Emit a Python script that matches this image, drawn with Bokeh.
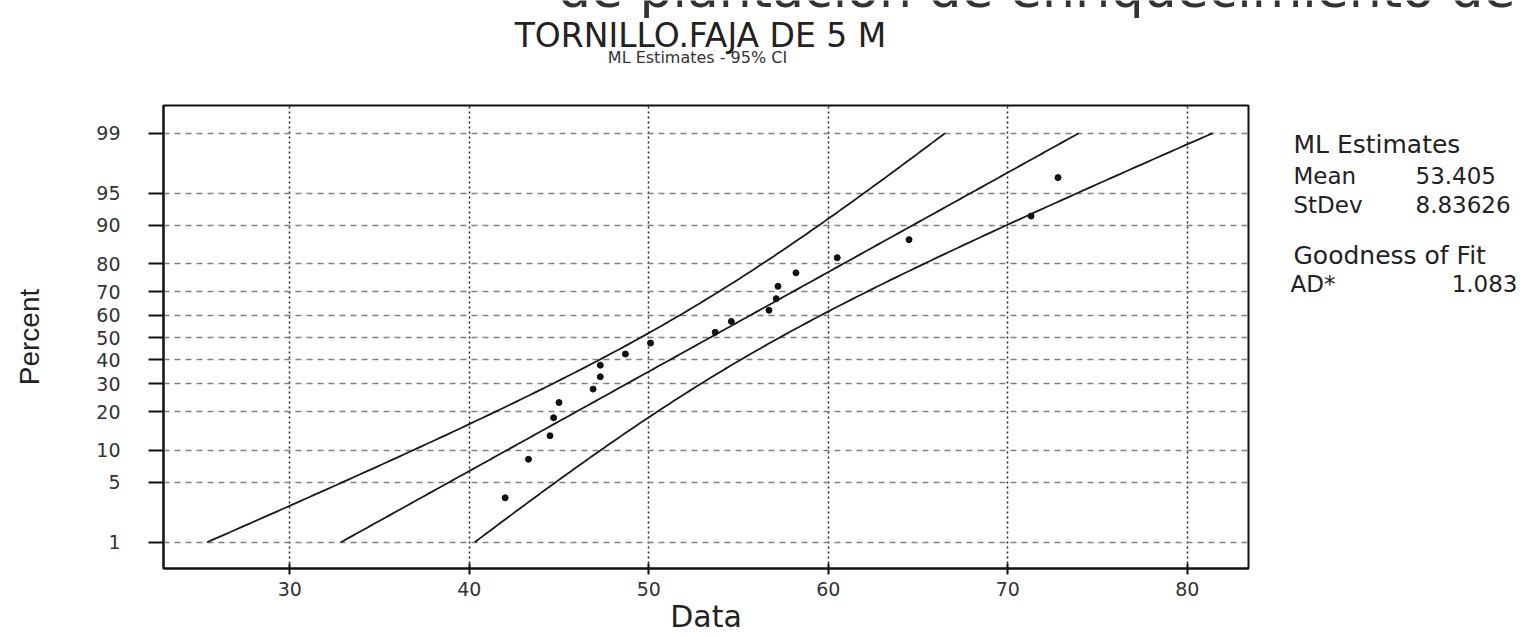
from statistics import NormalDist
import math
from bokeh.plotting import figure
from bokeh.layouts import column, row
from bokeh.models import Range1d, FixedTicker, CustomJSTickFormatter
from bokeh.core.properties import value
from bokeh.embed import file_html
from bokeh.resources import INLINE

# ---------------- data ----------------
data_values = [42.0, 43.3, 44.5, 44.7, 45.0, 46.9, 47.3, 47.3, 48.7, 50.1,
               53.7, 54.6, 56.7, 57.1, 57.2, 58.2, 60.5, 64.5, 71.3, 72.8]
mean_est = 53.405
stdev_est = 8.83626
ad_stat = 1.083
percent_ticks = [1, 5, 10, 20, 30, 40, 50, 60, 70, 80, 90, 95, 99]
x_ticks = [30, 40, 50, 60, 70, 80]
title_cut = "de plantación de enriquecimiento de"
title_main = "TORNILLO.FAJA DE 5 M"
subtitle = "ML Estimates - 95% CI"

nd = NormalDist()
n = len(data_values)
xs = sorted(data_values)
# median-rank (Benard) plotting positions, as in Minitab
z_pts = [nd.inv_cdf((i + 1 - 0.3) / (n + 0.4)) for i in range(n)]
z_ticks = [nd.inv_cdf(p / 100.0) for p in percent_ticks]
tick_labels = [str(p) for p in percent_ticks]

# fitted line and 95% CI (ML, normal approximation)
z_lo, z_hi = nd.inv_cdf(0.01), nd.inv_cdf(0.99)
zc = [z_lo + (z_hi - z_lo) * k / 200 for k in range(201)]
fit_x = [mean_est + z * stdev_est for z in zc]
se = [stdev_est * math.sqrt(1.0 / n + z * z / (2.0 * n)) for z in zc]
ci_lo = [f - 1.96 * s for f, s in zip(fit_x, se)]
ci_hi = [f + 1.96 * s for f, s in zip(fit_x, se)]

# ---------------- layout (pixel geometry) ----------------
W, H = 1522, 636
TOP_H = 100
MAIN_W = 1260
FL, FR, FT, FB = 163, 1248, 105, 568
PX55, SX = 738.0, 17.95       # pixel of x=55, px per unit
PY0, SY = 337.2, 87.92        # pixel of z=0, px per z unit
xa = 55 + (FL - PX55) / SX
xb = 55 + (FR - PX55) / SX
yt = (PY0 - FT) / SY
yb = (PY0 - FB) / SY

FONT = "DejaVu Sans"


def text_fig(w, h, x0, ytop, ybot, btop=0, bbot=0):
    f = figure(width=w, height=h, x_range=Range1d(x0, x0 + w), y_range=Range1d(ybot, ytop),
               output_backend="svg", toolbar_location=None,
               x_axis_type=None, y_axis_type=None,
               min_border_left=0, min_border_right=0, min_border_top=btop, min_border_bottom=bbot)
    f.outline_line_color = None
    f.grid.visible = False
    f.background_fill_color = "white"
    f.border_fill_color = "white"
    return f


def put(f, px, py, text, size, align="left", baseline="middle", color="#222222", font=FONT):
    f.text(x=[px], y=[py], text=[text], text_font=value(font), text_font_size=size,
           text_align=align, text_baseline=baseline, text_color=color)


# --- top title strip (first title line is cut at the top edge, as in the source) ---
top = text_fig(W, TOP_H, 0, 0, TOP_H)
put(top, 1515, -12, title_cut, "52px", align="right", color="#333333")
put(top, 700, 35, title_main, "33px", align="center")
put(top, 697, 57, subtitle, "16px", align="center", color="#333333")

# --- main plot ---
p = figure(width=MAIN_W, height=H - TOP_H, x_range=Range1d(xa, xb), y_range=Range1d(yb, yt),
           output_backend="svg", toolbar_location=None,
           min_border_left=FL, min_border_right=MAIN_W - FR,
           min_border_top=FT - TOP_H, min_border_bottom=H - FB)
p.background_fill_color = "white"
p.border_fill_color = "white"
p.outline_line_color = "#111111"
p.outline_line_width = 2

xax = p.xaxis[0]
yax = p.yaxis[0]
xax.ticker = FixedTicker(ticks=x_ticks)
yax.ticker = FixedTicker(ticks=z_ticks)
yax.formatter = CustomJSTickFormatter(args=dict(zs=z_ticks, labs=tick_labels), code="""
let b = 0;
for (let i = 0; i < zs.length; i++) {
  if (Math.abs(zs[i] - tick) < Math.abs(zs[b] - tick)) b = i;
}
return labs[b];
""")
for ax in (xax, yax):
    ax.axis_line_color = "#111111"
    ax.axis_line_width = 2
    ax.major_tick_line_color = "#111111"
    ax.major_tick_line_width = 2
    ax.minor_tick_line_color = None
    ax.major_label_text_font = FONT
    ax.major_label_text_font_size = "19px"
    ax.major_label_text_color = "#333333"
    ax.axis_label_text_font_style = "normal"
    ax.axis_label_text_color = "#222222"
yax.major_tick_out = 15
yax.major_tick_in = 0
yax.major_label_standoff = 28
yax.axis_label = "Percent"
yax.axis_label_text_font = "Liberation Sans"
yax.axis_label_text_font_size = "28px"
yax.axis_label_standoff = 48
xax.major_tick_out = 6
xax.major_tick_in = 5
xax.major_label_standoff = 7
xax.axis_label = "Data"
xax.axis_label_text_font = FONT
xax.axis_label_text_font_size = "30px"
xax.axis_label_standoff = 0

p.ygrid.grid_line_color = "#808080"
p.ygrid.grid_line_width = 1.3
p.ygrid.grid_line_dash = "6 5"
p.xgrid.grid_line_color = "#222222"
p.xgrid.grid_line_width = 1.5
p.xgrid.grid_line_dash = "2 3"

p.line(ci_hi, zc, line_color="#1a1a1a", line_width=1.8)
p.line(fit_x, zc, line_color="#1a1a1a", line_width=1.8)
p.line(ci_lo, zc, line_color="#1a1a1a", line_width=1.8)
p.scatter(xs, z_pts, size=6, color="#111111")

# --- right stats panel (frame aligned with the main plot frame) ---
side = text_fig(W - MAIN_W, H - TOP_H, MAIN_W, FT, FB, btop=FT - TOP_H, bbot=H - FB)
put(side, 1293, 144, "ML Estimates", "25px")
put(side, 1293, 175, "Mean", "23px")
put(side, 1415, 175, f"{mean_est:.3f}", "23px")
put(side, 1293, 204, "StDev", "23px")
put(side, 1415, 204, f"{stdev_est:.5f}", "23px")
put(side, 1293, 255, "Goodness of Fit", "25px")
put(side, 1290, 283, "AD*", "23px")
put(side, 1517, 283, f"{ad_stat:.3f}", "23px", align="right")

layout = column(top, row(p, side, spacing=0), spacing=0)
open("out.html", "w").write(file_html(layout, INLINE))
